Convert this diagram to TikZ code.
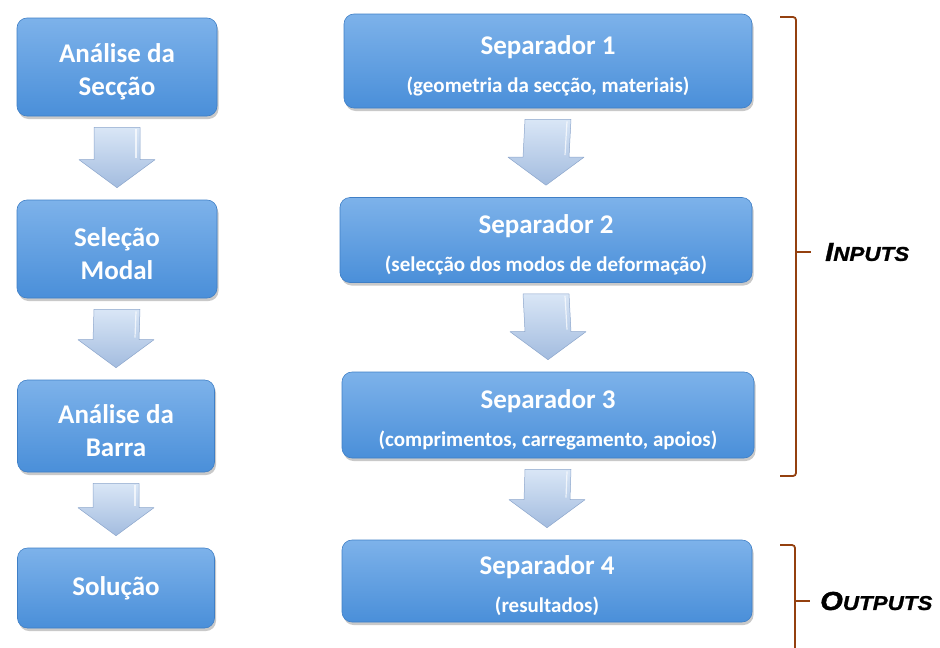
\documentclass[tikz,border=0pt]{standalone}
\usepackage{fontspec}
\setmainfont{Carlito}
\newfontfamily\labelfont[FakeStretch=1.12,FakeBold=1.2]{Liberation Sans}
\usetikzlibrary{calc,shadows}
\newcommand{\subfont}{\fontsize{21}{24}\selectfont}
\newcommand{\topgap}{\rule{0pt}{29pt}}
\definecolor{boxtop}{HTML}{7DB2EA}
\definecolor{boxbot}{HTML}{4A8FD9}
\definecolor{boxedge}{HTML}{3F7FC6}
\definecolor{arrtop}{HTML}{D9E6F6}
\definecolor{arrbot}{HTML}{A3BCDF}
\definecolor{arredge}{HTML}{8CA6CC}
\definecolor{bracecol}{HTML}{94400F}
\tikzset{
  boxnode/.style={draw=boxedge, line width=0.6pt, rounded corners=10pt,
    top color=boxtop, bottom color=boxbot, text=white, align=center,
    inner sep=2pt, font=\bfseries\fontsize{27}{33}\selectfont,
    drop shadow={shadow xshift=1.5pt, shadow yshift=-3pt, opacity=0.3, fill=black!70}},
  blockarr/.style={draw=arredge, line width=0.5pt, top color=arrtop, bottom color=arrbot, line join=round},
  bracket/.style={draw=bracecol, line width=1.8pt, rounded corners=3pt},
  sidelabel/.style={font=\labelfont\bfseries\itshape, text=black, anchor=west, inner sep=0pt}
}
\newcommand{\blockarrow}[2]{%
  \path[blockarr] ($(#1.south)+(-23,11)$) -- ($(#1.south)+(23,11)$)
    -- ($(#2.north)+(23,-40)$) -- ($(#2.north)+(38,-40)$)
    -- ($(#2.north)+(0,-12)$) -- ($(#2.north)+(-38,-40)$)
    -- ($(#2.north)+(-23,-40)$) -- cycle;
  \draw[white, line width=1.2pt, opacity=0.7] ($(#1.south)+(19,13)$) -- ($(#2.north)+(19,-42)$);
}
\begin{document}
\begin{tikzpicture}[x=1pt,y=-1pt]
\useasboundingbox (0,0) rectangle (940,648);
% left column
\node[boxnode, minimum width=200pt, minimum height=98pt] (L1) at (117,67) {\topgap Análise da\\Secção};
\node[boxnode, minimum width=200pt, minimum height=98pt] (L2) at (117,249) {\topgap Seleção\\Modal};
\node[boxnode, minimum width=197pt, minimum height=92pt] (L3) at (116,426) {\topgap Análise da\\Barra};
\node[boxnode, minimum width=197pt, minimum height=80pt] (L4) at (116,588) {Solução};
% right column
\node[boxnode, minimum width=408pt, minimum height=94pt] (R1) at (548,61)
  {\topgap Separador 1\\[5pt]{\subfont (geometria da secção, materiais)}};
\node[boxnode, minimum width=412pt, minimum height=85pt] (R2) at (546,240)
  {\topgap Separador 2\\[5pt]{\subfont (selecção dos modos de deformação)}};
\node[boxnode, minimum width=412pt, minimum height=86pt] (R3) at (548,415)
  {\topgap Separador 3\\[5pt]{\subfont (comprimentos, carregamento, apoios)}};
\node[boxnode, minimum width=410pt, minimum height=82pt] (R4) at (547,581)
  {\topgap Separador 4\\[5pt]{\subfont (resultados)}};
% block arrows
\blockarrow{L1}{L2}
\blockarrow{L2}{L3}
\blockarrow{L3}{L4}
\blockarrow{R1}{R2}
\blockarrow{R2}{R3}
\blockarrow{R3}{R4}
% brackets
\coordinate (inT) at (796,252);
\coordinate (inE) at (811,252);
\coordinate (outT) at (795,601);
\coordinate (outE) at (810,601);
\draw[bracket] (780,17) -- (796,17) -- (796,476) -- (780,476);
\draw[bracket] (inT) -- (inE);
\node[sidelabel] (inputs) at (825,252) {{\fontsize{26}{26}\selectfont I}{\fontsize{20}{20}\selectfont NPUTS}};
\draw[bracket] (780,545) -- (795,545) -- (795,649);
\draw[bracket] (outT) -- (outE);
\node[sidelabel] (outputs) at (820,601) {{\fontsize{26}{26}\selectfont O}{\fontsize{20}{20}\selectfont UTPUTS}};
\end{tikzpicture}
\end{document}
